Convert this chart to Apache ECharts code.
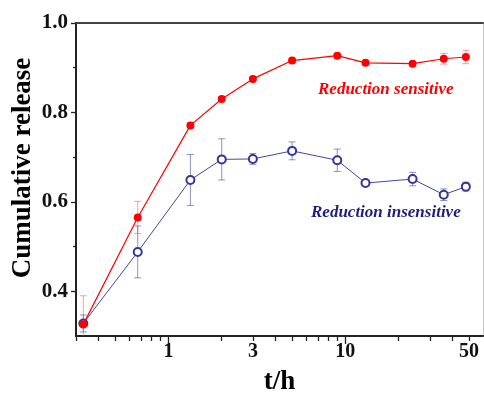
<!DOCTYPE html>
<html>
<head>
<meta charset="utf-8">
<script src="https://cdn.jsdelivr.net/npm/echarts@6/dist/echarts.min.js"></script>
<style>
html,body{margin:0;padding:0;background:#fff;}
#c{width:484px;height:396px;}
</style>
</head>
<body>
<div id="c"></div>
<script>
// Data (time in hours, cumulative release fraction)
const timeH = [0.33, 0.67, 1.33, 2, 3, 5, 9, 13, 24, 36, 48];
const sensitive = [0.326, 0.565, 0.771, 0.830, 0.875, 0.916, 0.927, 0.911, 0.909, 0.920, 0.924];
const sensitiveErr = [0.064, 0.036, 0.005, 0.005, 0.005, 0.005, 0.005, 0.004, 0.005, 0.012, 0.015];
const insensitive = [0.328, 0.488, 0.649, 0.695, 0.696, 0.714, 0.693, 0.642, 0.651, 0.616, 0.634];
const insensitiveErr = [0.019, 0.058, 0.057, 0.046, 0.012, 0.020, 0.025, 0.004, 0.015, 0.013, 0.010];
const xTickLabels = [1, 3, 10, 50];
const xMinorTicks = [0.3, 0.4, 0.5, 0.6, 0.7, 0.8, 0.9, 2, 3, 4, 5, 6, 7, 8, 9, 20, 30, 40, 50];
const xMajorTicks = [1, 10];
const yTickLabels = [0.4, 0.6, 0.8, 1.0];
const yMinorTicks = [0.5, 0.7, 0.9];
const xTitle = 't/h';
const yTitle = 'Cumulative release';

const RED = '#ff0000';
const BLUE_LINE = '#4646a0';
const BLUE_MARK = '#34349a';
const BLUE_TEXT = '#1e1e80';
const FONT = '"Liberation Serif","Times New Roman",serif';

const pts = (xs, ys) => xs.map((x, i) => [x, ys[i]]);
const errPts = (xs, ys, es) => xs.map((x, i) => [x, ys[i], es[i]]);

function errRender(color) {
  return function (params, api) {
    const x = api.value(0), y = api.value(1), e = api.value(2);
    const hi = api.coord([x, y + e]);
    const lo = api.coord([x, y - e]);
    const w = 3.5;
    const st = { stroke: color, lineWidth: 1 };
    return {
      type: 'group',
      children: [
        { type: 'line', shape: { x1: hi[0], y1: hi[1], x2: lo[0], y2: lo[1] }, style: st },
        { type: 'line', shape: { x1: hi[0] - w, y1: hi[1], x2: hi[0] + w, y2: hi[1] }, style: st },
        { type: 'line', shape: { x1: lo[0] - w, y1: lo[1], x2: lo[0] + w, y2: lo[1] }, style: st }
      ]
    };
  };
}

const grid = { left: 76, top: 23, right: 1, bottom: 60, containLabel: false, outerBoundsMode: 'none' };
const chart = echarts.init(document.getElementById('c'), null, { renderer: 'canvas' });

const xBase = { type: 'log', logBase: 10, min: 0.3, max: 60, gridIndex: 0 };
const yBase = { type: 'value', min: 0.3, max: 1.0, gridIndex: 0 };

chart.setOption({
  animation: false,
  backgroundColor: '#ffffff',
  grid: grid,
  xAxis: [
    Object.assign({}, xBase, {
      position: 'bottom',
      name: xTitle, nameLocation: 'middle', nameGap: 33,
      nameTextStyle: { fontFamily: FONT, fontWeight: 'bold', fontSize: 27, color: '#000' },
      axisLine: { show: true, onZero: false, lineStyle: { color: '#222', width: 2 } },
      axisTick: { show: true, inside: false, length: 5, customValues: xMinorTicks, lineStyle: { color: '#222', width: 1.3 } },
      axisLabel: { show: true, customValues: xTickLabels, margin: 6, fontFamily: FONT, fontWeight: 'bold', fontSize: 20, color: '#111', formatter: v => String(v) },
      splitLine: { show: false }, minorTick: { show: false }
    }),
    Object.assign({}, xBase, {
      position: 'bottom',
      axisLine: { show: false, onZero: false },
      axisTick: { show: true, length: 8, customValues: xMajorTicks, lineStyle: { color: '#222', width: 1.3 } },
      axisLabel: { show: false }, splitLine: { show: false }
    }),
    Object.assign({}, xBase, {
      position: 'top',
      axisLine: { show: true, onZero: false, lineStyle: { color: '#444', width: 2 } },
      axisTick: { show: false }, axisLabel: { show: false }, splitLine: { show: false }
    })
  ],
  yAxis: [
    Object.assign({}, yBase, {
      position: 'left',
      axisLine: { show: true, onZero: false, lineStyle: { color: '#222', width: 2 } },
      axisTick: { show: true, length: 5, customValues: yTickLabels, lineStyle: { color: '#222', width: 1.3 } },
      axisLabel: { show: true, customValues: yTickLabels, margin: 8, fontFamily: FONT, fontWeight: 'bold', fontSize: 21, color: '#111', formatter: v => v.toFixed(1) },
      splitLine: { show: false }
    }),
    Object.assign({}, yBase, {
      position: 'left',
      axisLine: { show: false, onZero: false },
      axisTick: { show: true, length: 3, customValues: yMinorTicks, lineStyle: { color: '#222', width: 1.3 } },
      axisLabel: { show: false }, splitLine: { show: false }
    }),
    Object.assign({}, yBase, {
      position: 'right',
      axisLine: { show: true, onZero: false, lineStyle: { color: '#c8c8c8', width: 1 } },
      axisTick: { show: false }, axisLabel: { show: false }, splitLine: { show: false }
    })
  ],
  graphic: [
    { type: 'text', x: 23, y: 168, rotation: Math.PI / 2,
      style: { text: yTitle, font: 'bold 27px ' + FONT, fill: '#000', align: 'center', verticalAlign: 'middle' } },
    { type: 'text', left: 318, top: 81, style: { text: 'Reduction sensitive', font: 'italic bold 17px ' + FONT, fill: RED } },
    { type: 'text', left: 311, top: 204, style: { text: 'Reduction insensitive', font: 'italic bold 17px ' + FONT, fill: BLUE_TEXT } }
  ],
  series: [
    {
      type: 'custom', name: 'insErr', xAxisIndex: 0, yAxisIndex: 0, clip: true, z: 1,
      renderItem: errRender('rgba(70,70,160,0.6)'),
      data: errPts(timeH, insensitive, insensitiveErr)
    },
    {
      type: 'custom', name: 'senErr', xAxisIndex: 0, yAxisIndex: 0, clip: true, z: 1,
      renderItem: errRender('rgba(240,80,80,0.55)'),
      data: errPts(timeH, sensitive, sensitiveErr)
    },
    {
      type: 'line', name: 'Reduction insensitive', xAxisIndex: 0, yAxisIndex: 0, z: 3,
      data: pts(timeH, insensitive),
      symbol: 'emptyCircle', symbolSize: 8,
      itemStyle: { color: BLUE_MARK, borderColor: BLUE_MARK, borderWidth: 1 },
      lineStyle: { color: BLUE_LINE, width: 1 }
    },
    {
      type: 'line', name: 'Reduction sensitive', xAxisIndex: 0, yAxisIndex: 0, z: 4,
      data: pts(timeH, sensitive),
      symbol: 'circle', symbolSize: 8,
      itemStyle: { color: RED, borderColor: RED, borderWidth: 0 },
      lineStyle: { color: RED, width: 1.2 }
    }
  ]
});
</script>
</body>
</html>
